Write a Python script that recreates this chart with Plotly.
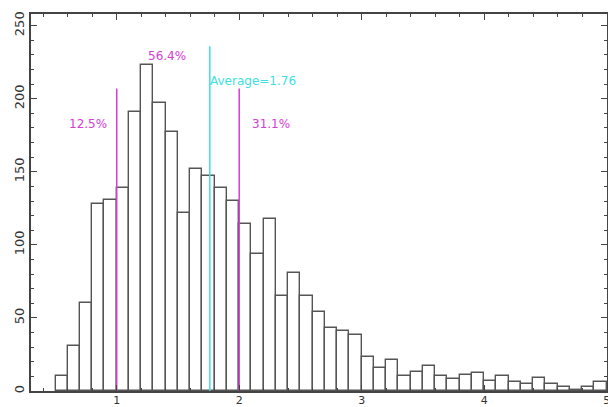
import plotly.graph_objects as go

# Histogram bins (left edges) and counts
bin_left = [round(0.5 + 0.1 * i, 1) for i in range(45)]
counts = [10, 31, 60, 128, 131, 139, 191, 223, 197, 177,
          122, 152, 147, 139, 130, 114, 94, 118, 65, 81,
          65, 54, 43, 41, 38, 23, 16, 21, 10, 13,
          17, 10, 8, 11, 12, 7, 10, 6, 5, 9,
          5, 3, 1, 3, 6]
bin_width = 0.1
bin_center = [round(b + bin_width / 2, 2) for b in bin_left]

# Marker lines
split_x = [1.0, 2.0]
split_top = 207
avg_x = 1.76
avg_top = 236

# Labels
pct_labels = ["12.5%", "56.4%", "31.1%"]
pct_x = [0.765, 1.41, 2.26]
pct_y = [183, 229, 183]
avg_label = "Average=1.76"

MAG = "#d63cd6"
CYAN = "#40dede"
EDGE = "#555555"

fig = go.Figure()
fig.add_trace(go.Bar(x=bin_center, y=counts, width=bin_width,
                     marker=dict(color="white", line=dict(color=EDGE, width=1.4)),
                     showlegend=False, hoverinfo="skip"))
for sx in split_x:
    fig.add_trace(go.Scatter(x=[sx, sx], y=[0, split_top], mode="lines",
                             line=dict(color=MAG, width=1.5), showlegend=False))
fig.add_trace(go.Scatter(x=[avg_x, avg_x], y=[0, avg_top], mode="lines",
                         line=dict(color=CYAN, width=1.5), showlegend=False))

for t, x, y in zip(pct_labels, pct_x, pct_y):
    fig.add_annotation(x=x, y=y, text=t, showarrow=False,
                       font=dict(color=MAG, size=12, family="DejaVu Sans"))
fig.add_annotation(x=avg_x, y=212, text=avg_label, showarrow=False, xanchor="left",
                   xshift=-2, font=dict(color=CYAN, size=12, family="DejaVu Sans"))

axis_common = dict(showline=True, linecolor="#444", linewidth=1.5, mirror="ticks",
                   ticks="inside", tickcolor="#444", showgrid=False, zeroline=False,
                   automargin=False, ticklabeloverflow="allow")
fig.update_xaxes(range=[0.3, 5.003], dtick=1, tick0=0, ticklen=6, ticklabelstandoff=-2,
                 tickfont=dict(size=11, color="#333", family="DejaVu Sans"),
                 minor=dict(ticks="inside", dtick=0.2, tick0=0, ticklen=3, tickcolor="#444"),
                 **axis_common)
fig.update_yaxes(range=[0, 258], dtick=50, tick0=0, ticklen=6, tickangle=-90,
                 tickfont=dict(size=13, color="#333", family="DejaVu Sans"),
                 minor=dict(ticks="inside", dtick=10, tick0=0, ticklen=3, tickcolor="#444"),
                 **axis_common)
fig.update_layout(width=608, height=407, margin=dict(l=31, r=1, t=14, b=16),
                  plot_bgcolor="white", paper_bgcolor="white", bargap=0)
fig.write_html("out.html", config={"displayModeBar": False},
               post_script="document.body.style.margin='0';")
